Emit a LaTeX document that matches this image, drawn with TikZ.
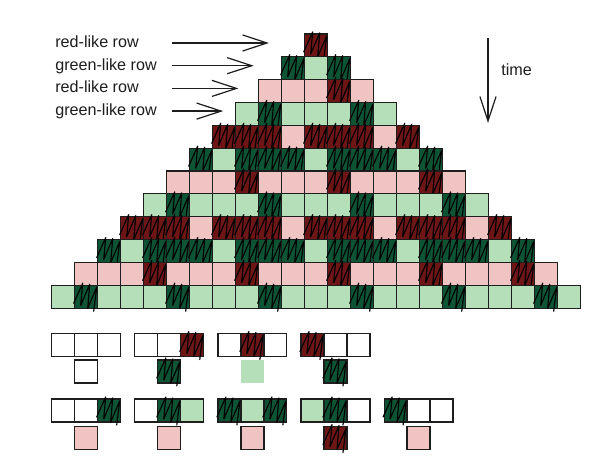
\documentclass[tikz,border=0pt]{standalone}
\usepackage{fontspec}
\setmainfont{Liberation Sans}
\usetikzlibrary{arrows.meta,positioning}
\definecolor{darkred}{HTML}{6E1616}
\definecolor{darkgreen}{HTML}{0C5434}
\definecolor{pinkish}{HTML}{F0C4C3}
\definecolor{lightgreen}{HTML}{B5DFB8}
\definecolor{ink}{HTML}{1E1E1E}
\newcommand{\hatchcell}[1]{%
  \draw[hatch, shift={(#1.south west)}]
    (-1,-5) -- (8,-25) -- (6,-3) -- (15,-24) -- (13,0) -- (22,-21) -- (19,3);}
\begin{document}
\begin{tikzpicture}[x=0.026087cm, y=-0.026087cm,
  cell/.style={draw=ink, line width=0.9pt, minimum size=0.6cm, inner sep=0pt, outer sep=0pt},
  hatch/.style={draw=black, line width=0.85pt, line join=round, line cap=round},
  rd/.style={fill=darkred}, dg/.style={fill=darkgreen},
  pk/.style={fill=pinkish}, lg/.style={fill=lightgreen}, wt/.style={fill=white},
  lgn/.style={fill=lightgreen, draw=none},
  lbl/.style={anchor=base west, inner sep=0pt, text=ink, font=\fontsize{12}{14}\selectfont},
  arr/.style={draw=ink, line width=0.9pt, -{Straight Barb[length=0.64cm, width=0.42cm]}}]
  \fill[white] (0,0) rectangle (593,460);
  \useasboundingbox (0,0) rectangle (593,460);

  % the automaton, one row per time step
  \foreach \r in {0,...,11} {
    \pgfmathtruncatemacro\cfirst{11-\r}
    \pgfmathtruncatemacro\clast{11+\r}
    \foreach \c in {\cfirst,...,\clast} {
      \pgfmathtruncatemacro\rowmod{mod(\r,4)}
      \pgfmathtruncatemacro\colmod{mod(\c,4)}
      \def\dk{1}
      \ifcase\rowmod
        \ifnum\colmod=2 \def\st{pk}\def\dk{0}\else\def\st{rd}\fi
      \or \ifnum\colmod=3 \def\st{lg}\def\dk{0}\else\def\st{dg}\fi
      \or \ifnum\colmod=0 \def\st{rd}\else\def\st{pk}\def\dk{0}\fi
      \or \ifnum\colmod=1 \def\st{dg}\else\def\st{lg}\def\dk{0}\fi
      \fi
      \node[cell,\st] (c-\r-\c) at ({63.2+23*\c},{45.4+22.85*\r}) {};
      \ifnum\dk=1 \hatchcell{c-\r-\c}\fi
    }
  }

  % row labels
  \foreach \k/\t in {0/red-like row,1/green-like row,2/red-like row,3/green-like row} {
    \node[lbl] (lab-\k) at (55,{47.5+22.7*\k}) {\t};
    \coordinate (from-\k) at (172,{43+22.7*\k});
    \coordinate (to-\k) at ({269-15.3*\k},{43+22.7*\k});
    \draw[arr] (from-\k) -- (to-\k);
  }

  \coordinate (time-top) at (488,38);
  \coordinate (time-bot) at (488,123);
  \draw[arr] (time-top) -- (time-bot);
  \node[lbl] (time) at (501,75.5) {time};

  % rules: red-like row to green-like row
  \foreach \i/\a/\b/\c/\o in {0/wt/wt/wt/wt,1/wt/wt/rd/dg,2/wt/rd/wt/lgn,3/rd/wt/wt/dg} {
    \node[cell,\a] (up-\i-a) at ({63.2+83.1*\i},345) {};
    \node[cell,\b,right=0pt of up-\i-a] (up-\i-b) {};
    \node[cell,\c,right=0pt of up-\i-b] (up-\i-c) {};
    \node[cell,\o,below=0.09cm of up-\i-b] (up-\i-o) {};
  }
  % rules: green-like row to red-like row
  \foreach \i/\a/\b/\c/\o in {0/wt/wt/dg/pk,1/wt/dg/lg/pk,2/dg/lg/dg/pk,3/lg/dg/wt/rd,4/dg/wt/wt/pk} {
    \node[cell,\a] (dn-\i-a) at ({63.2+83.1*\i},410.5) {};
    \node[cell,\b,right=0pt of dn-\i-a] (dn-\i-b) {};
    \node[cell,\c,right=0pt of dn-\i-b] (dn-\i-c) {};
    \node[cell,\o,below=0.12cm of dn-\i-b] (dn-\i-o) {};
  }
  \foreach \n in {up-1-c,up-1-o,up-2-b,up-3-a,up-3-o,dn-0-c,dn-1-b,dn-2-a,dn-2-c,dn-3-b,dn-3-o,dn-4-a}
    \hatchcell{\n};
\end{tikzpicture}
\end{document}
